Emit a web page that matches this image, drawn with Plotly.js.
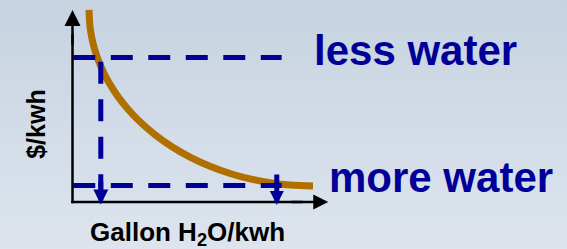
<!DOCTYPE html>
<html><head><meta charset="utf-8">
<script src="https://cdn.plot.ly/plotly-3.0.1.min.js"></script>
<style>
html,body{margin:0;padding:0;background:#d3dce8;}
#chart{width:567px;height:249px;background:linear-gradient(to bottom,#c7d3e1,#dde4ed);}
</style></head><body><div id="chart"></div>
<script>
// Cost curve: $/kwh versus gallons of water per kwh (arbitrary units)
const curveX = [0.645, 0.684, 0.762, 0.879, 1.035, 1.230, 1.465, 1.777, 2.168, 2.637, 3.223, 3.887, 4.590, 5.371, 6.152, 6.934, 7.715, 8.496, 9.395];
const curveY = [7.918, 7.233, 6.734, 6.247, 5.773, 5.303, 4.849, 4.346, 3.827, 3.307, 2.775, 2.276, 1.852, 1.472, 1.175, 0.952, 0.796, 0.697, 0.660];

// Two reference price levels and the water use they lead to
const priceLevels = [5.96, 0.68];        // "less water" price, "more water" price
const waterAtPrice = [1.105, 7.98];      // gallons/kwh read at those prices
const levelLabels = ["less water", "more water"];
const guideX = [0.03, 8.17];             // extent of the horizontal guides
const dropTop = [5.785, 1.196];          // top of each downward arrow
const dropTip = [-0.10, -0.12];          // arrow tips on the x axis

// Axes (drawn as arrows)
const axisXEnd = 9.99;
const axisYEnd = 7.92;
const xTitle = "Gallon H<sub>2</sub>O/kwh";
const yTitle = "$/kwh";

const blue = "#000099";
const font = "Liberation Sans, Arial, sans-serif";

const traces = [];
// curve
traces.push({x: curveX, y: curveY, mode: "lines", line: {color: "#b07000", width: 7, shape: "spline", smoothing: 1}, hoverinfo: "skip"});
// horizontal dashed guides
priceLevels.forEach(p => {
  traces.push({x: guideX, y: [p, p], mode: "lines", line: {color: blue, width: 5, dash: "22px,15.5px"}, hoverinfo: "skip"});
});
// vertical dashed drop (left)
traces.push({x: [waterAtPrice[0], waterAtPrice[0]], y: [dropTop[0], dropTip[0] + 0.3], mode: "lines", line: {color: blue, width: 5, dash: "22px,15.5px"}, hoverinfo: "skip"});
// axes lines
traces.push({x: [0, 0], y: [-0.05, axisYEnd - 1.0], mode: "lines", line: {color: "#000", width: 2.5}, hoverinfo: "skip"});
traces.push({x: [-0.05, axisXEnd - 1.0], y: [0, 0], mode: "lines", line: {color: "#000", width: 2.5}, hoverinfo: "skip"});

const arrow = (x, y, ax, ay, color, w, s) => ({
  x: x, y: y, ax: ax, ay: ay, xref: "x", yref: "y", axref: "x", ayref: "y",
  text: "", showarrow: true, arrowhead: 2, arrowcolor: color, arrowwidth: w, arrowsize: s, standoff: 0
});

const annotations = [
  {x: 13.38, y: 6.25, text: "<b>" + levelLabels[0] + "</b>", font: {family: font, size: 42, color: blue}},
  {x: 14.41, y: 1.01, text: "<b>" + levelLabels[1] + "</b>", font: {family: font, size: 42, color: blue}},
  {x: 4.51, y: -1.30, text: "<b>" + xTitle + "</b>", font: {family: font, size: 26, color: "#000"}},
  {x: -1.43, y: 3.22, text: "<b>" + yTitle + "</b>", textangle: -90, font: {family: font, size: 25, color: "#000"}}
].map(a => Object.assign({xref: "x", yref: "y", showarrow: false, xanchor: "center", yanchor: "middle"}, a));

// arrow heads
annotations.push(arrow(waterAtPrice[0], dropTip[0], waterAtPrice[0], dropTip[0] + 1.0, blue, 5, 0.6));
annotations.push(arrow(waterAtPrice[1], dropTip[1], waterAtPrice[1], dropTop[1], blue, 5, 0.56));
annotations.push(arrow(0, axisYEnd, 0, axisYEnd - 1.5, "#000", 2.5, 1.28));
annotations.push(arrow(axisXEnd, 0, axisXEnd - 1.5, 0, "#000", 2.5, 1.2));

const layout = {
  width: 567, height: 249,
  margin: {l: 0, r: 0, t: 0, b: 0, pad: 0},
  paper_bgcolor: "rgba(0,0,0,0)", plot_bgcolor: "rgba(0,0,0,0)",
  showlegend: false,
  xaxis: {range: [-2.832, 19.316], visible: false, fixedrange: true},
  yaxis: {range: [-1.938, 8.330], visible: false, fixedrange: true},
  annotations: annotations
};
Plotly.newPlot("chart", traces, layout, {displayModeBar: false, staticPlot: true});
</script></body></html>
